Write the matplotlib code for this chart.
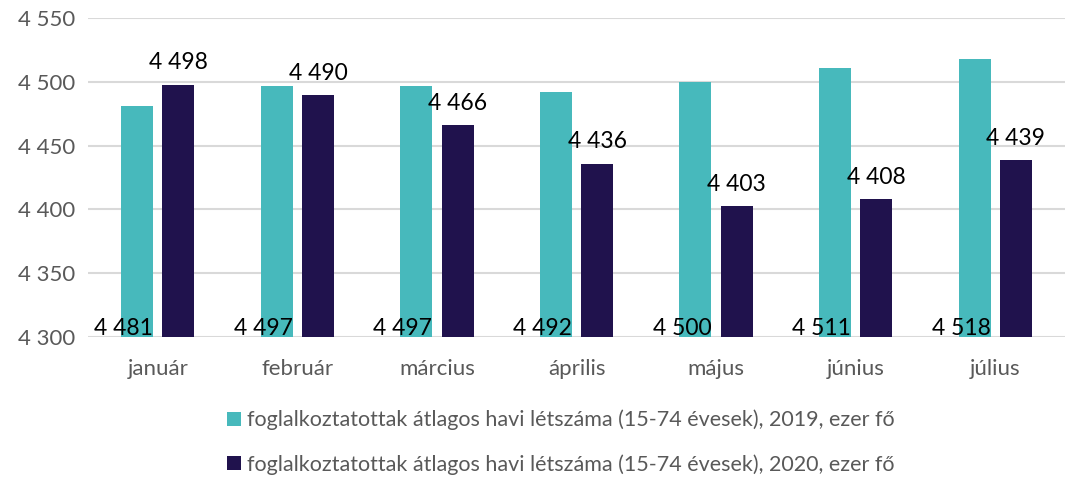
import matplotlib
matplotlib.use("Agg")
import matplotlib.pyplot as plt
import numpy as np

plt.rcParams["font.family"] = ["Lato", "DejaVu Sans"]

months = ["január", "február", "március", "április", "május", "június", "július"]
v2019 = [4481, 4497, 4497, 4492, 4500, 4511, 4518]
v2020 = [4498, 4490, 4466, 4436, 4403, 4408, 4439]
lab2019 = "foglalkoztatottak átlagos havi létszáma (15-74 évesek), 2019, ezer fő"
lab2020 = "foglalkoztatottak átlagos havi létszáma (15-74 évesek), 2020, ezer fő"
yticks = [4300, 4350, 4400, 4450, 4500, 4550]

TEAL = "#47B9BC"
NAVY = "#20124D"
GRAY = "#595959"

def fmt(v):
    return f"{v:,}".replace(",", " ")

fig = plt.figure(figsize=(10.78, 4.79), dpi=100)
ax = fig.add_axes([0.0816, 0.2965, 0.9064, 0.6655])

x = np.arange(len(months))
w = 0.23; off = 0.148
b1 = ax.bar(x - off, np.array(v2019) - 4300, w, bottom=4300, color=TEAL, label=lab2019, zorder=3)
b2 = ax.bar(x + off, np.array(v2020) - 4300, w, bottom=4300, color=NAVY, label=lab2020, zorder=3)

# 2019 labels sit near the base of the bars, 2020 labels above them
for xi, v in zip(x, v2019):
    ax.text(xi - off + w / 2, 4307, fmt(v), ha="right", va="center", fontsize=16.5, color="black", zorder=4)
for xi, v in zip(x, v2020):
    ax.annotate(fmt(v), (xi + off, v), xytext=(0, 8), textcoords="offset points",
                ha="center", va="bottom", fontsize=16.5, color="black", zorder=4)

ax.set_ylim(4300, 4550)
ax.set_xlim(-0.5, len(months) - 0.5)
ax.set_yticks(yticks)
ax.set_yticklabels([fmt(t) for t in yticks], fontsize=16, color=GRAY)
ax.set_xticks(x)
ax.set_xticklabels(months, fontsize=16, color=GRAY)
ax.tick_params(length=0)
ax.tick_params(axis="x", pad=16)
ax.tick_params(axis="y", pad=9)
ax.grid(axis="y", color="#D9D9D9", linewidth=1.5, zorder=0)
for s in ax.spines.values():
    s.set_visible(False)

fig.legend(handles=[b1, b2], loc="center", bbox_to_anchor=(0.52, 0.077), ncol=1,
           frameon=False, fontsize=15.5, labelcolor=GRAY, labelspacing=1.1,
           handlelength=0.65, handleheight=0.65, handletextpad=0.3)

plt.savefig("out.png", dpi=100)
plt.close()
